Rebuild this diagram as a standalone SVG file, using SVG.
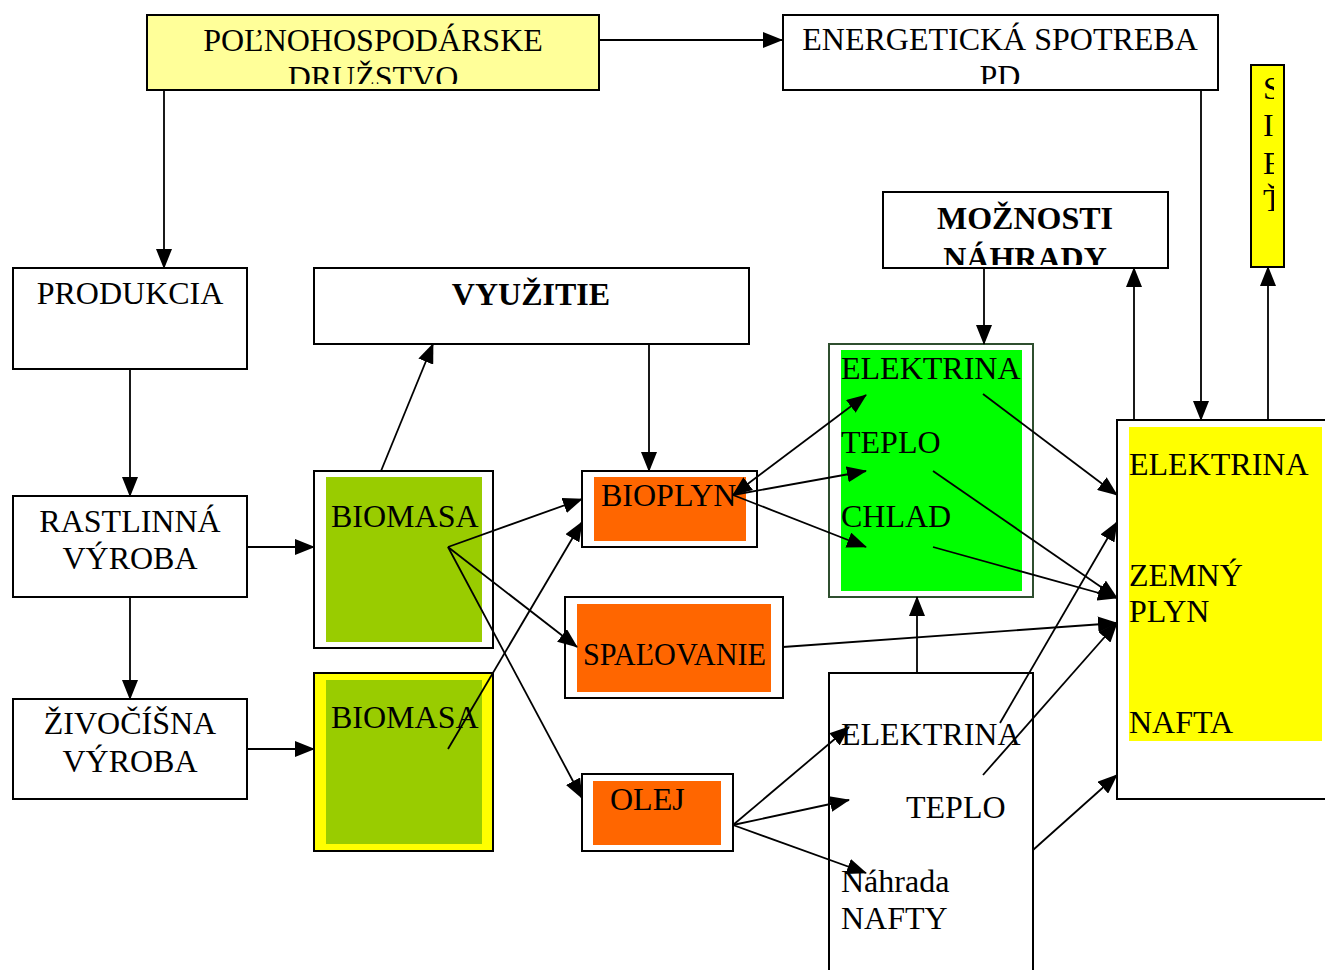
<svg xmlns="http://www.w3.org/2000/svg" width="1325" height="970" viewBox="0 0 1325 970">
<style>
.box{fill:#fff;stroke:#000;stroke-width:2}
.t{font-family:"Liberation Serif","Times New Roman",serif;font-size:32px;fill:#000}
.c{text-anchor:middle}
.b{font-weight:bold}
.ln{fill:none;stroke:#000;stroke-width:1.8}
</style>
<defs>
<marker id="ah" markerUnits="userSpaceOnUse" markerWidth="20" markerHeight="16" refX="19" refY="8" orient="auto-start-reverse">
<path d="M0,0 L20,8 L0,16 Z" fill="#000"/>
</marker>
<clipPath id="cp1"><rect x="148" y="16" width="450" height="68"/></clipPath>
<clipPath id="cp2"><rect x="783" y="16" width="434" height="68"/></clipPath>
<clipPath id="cp3"><rect x="884" y="193" width="283" height="72"/></clipPath>
<clipPath id="cp4"><rect x="1252" y="66" width="22" height="200"/></clipPath>
</defs>

<g id="druzstvo">
<rect x="147" y="15" width="452" height="75" fill="#FFFF99" stroke="#000" stroke-width="2"/>
<g clip-path="url(#cp1)">
<text class="t c" x="373" y="51">POĽNOHOSPODÁRSKE</text>
<text class="t c" x="373" y="88">DRUŽSTVO</text>
</g>
</g>

<g id="spotreba">
<rect class="box" x="783" y="15" width="435" height="75"/>
<g clip-path="url(#cp2)">
<text class="t c" x="1000" y="50">ENERGETICKÁ SPOTREBA</text>
<text class="t c" x="1000" y="87">PD</text>
</g>
</g>

<g id="siet">
<rect x="1251" y="65" width="33" height="202" fill="#FFFF00" stroke="#000" stroke-width="2"/>
<g clip-path="url(#cp4)">
<text class="t" x="1263" y="99">S</text>
<text class="t" x="1263" y="136">I</text>
<text class="t" x="1263" y="174">E</text>
<text class="t" x="1263" y="211">Ť</text>
</g>
</g>

<g id="moznosti">
<rect class="box" x="883" y="192" width="285" height="76"/>
<g clip-path="url(#cp3)">
<text class="t c b" x="1025" y="229">MOŽNOSTI</text>
<text class="t c b" x="1025" y="269">NÁHRADY</text>
</g>
</g>

<g id="produkcia">
<rect class="box" x="13" y="268" width="234" height="101"/>
<text class="t c" x="130" y="304">PRODUKCIA</text>
</g>

<g id="vyuzitie">
<rect class="box" x="314" y="268" width="435" height="76"/>
<text class="t c b" x="531" y="305">VYUŽITIE</text>
</g>

<g id="rastlinna">
<rect class="box" x="13" y="496" width="234" height="101"/>
<text class="t c" x="130" y="532">RASTLINNÁ</text>
<text class="t c" x="130" y="569">VÝROBA</text>
</g>

<g id="zivocisna">
<rect class="box" x="13" y="699" width="234" height="100"/>
<text class="t c" x="130" y="734">ŽIVOČÍŠNA</text>
<text class="t c" x="130" y="772">VÝROBA</text>
</g>

<g id="biomasa1">
<rect class="box" x="314" y="471" width="179" height="177"/>
<rect x="326" y="477" width="156" height="165" fill="#99CC00"/>
<text class="t" x="331" y="527">BIOMASA</text>
</g>

<g id="biomasa2">
<rect x="314" y="673" width="179" height="178" fill="#FFFF00" stroke="#000" stroke-width="2"/>
<rect x="326" y="680" width="156" height="164" fill="#99CC00"/>
<text class="t" x="331" y="728">BIOMASA</text>
</g>

<g id="bioplyn">
<rect class="box" x="582" y="471" width="175" height="76"/>
<rect x="594" y="477" width="152" height="64" fill="#FF6600"/>
<text class="t" x="601" y="506">BIOPLYN</text>
</g>

<g id="spalovanie">
<rect class="box" x="565" y="597" width="218" height="101"/>
<rect x="577" y="604" width="194" height="88" fill="#FF6600"/>
<text class="t" x="583" y="665" textLength="183" lengthAdjust="spacingAndGlyphs">SPAĽOVANIE</text>
</g>

<g id="olej">
<rect class="box" x="582" y="774" width="151" height="77"/>
<rect x="593" y="781" width="128" height="64" fill="#FF6600"/>
<text class="t" x="610" y="810">OLEJ</text>
</g>

<g id="energie-zelene">
<rect x="829" y="344" width="204" height="253" fill="#fff" stroke="#2f4f2f" stroke-width="2"/>
<rect x="841" y="350" width="181" height="241" fill="#00FF00"/>
<text class="t" x="841" y="379">ELEKTRINA</text>
<text class="t" x="841" y="453">TEPLO</text>
<text class="t" x="841" y="527">CHLAD</text>
</g>

<g id="zdroje">
<rect class="box" x="1117" y="420" width="220" height="379"/>
<rect x="1129" y="427" width="193" height="314" fill="#FFFF00"/>
<text class="t" x="1129" y="475">ELEKTRINA</text>
<text class="t" x="1129" y="586">ZEMNÝ</text>
<text class="t" x="1129" y="622">PLYN</text>
<text class="t" x="1129" y="733">NAFTA</text>
</g>

<g id="energie-olej">
<rect class="box" x="829" y="673" width="204" height="320"/>
<text class="t" x="841" y="745">ELEKTRINA</text>
<text class="t" x="906" y="818">TEPLO</text>
<text class="t" x="841" y="892">Náhrada</text>
<text class="t" x="841" y="929">NAFTY</text>
</g>

<g id="connectors" class="ln">
<path class="ln" d="M599,40 H782" marker-end="url(#ah)"/>
<path class="ln" d="M164,90 V268" marker-end="url(#ah)"/>
<path class="ln" d="M1201,90 V420" marker-end="url(#ah)"/>
<path class="ln" d="M984,268 V344" marker-end="url(#ah)"/>
<path class="ln" d="M1134,420 V268" marker-end="url(#ah)"/>
<path class="ln" d="M1268,420 V267" marker-end="url(#ah)"/>
<path class="ln" d="M130,369 V496" marker-end="url(#ah)"/>
<path class="ln" d="M130,597 V699" marker-end="url(#ah)"/>
<path class="ln" d="M247,547 H314" marker-end="url(#ah)"/>
<path class="ln" d="M247,749 H314" marker-end="url(#ah)"/>
<path class="ln" d="M381,471 L433,344" marker-end="url(#ah)"/>
<path class="ln" d="M649,344 V471" marker-end="url(#ah)"/>
<path class="ln" d="M448,547 L582,499" marker-end="url(#ah)"/>
<path class="ln" d="M448,547 L577,647" marker-end="url(#ah)"/>
<path class="ln" d="M448,547 L582,798" marker-end="url(#ah)"/>
<path class="ln" d="M448,749 L582,522" marker-end="url(#ah)"/>
<path class="ln" d="M733,495 L866,395" marker-start="url(#ah)" marker-end="url(#ah)"/>
<path class="ln" d="M733,495 L866,471" marker-end="url(#ah)"/>
<path class="ln" d="M733,495 L866,547" marker-end="url(#ah)"/>
<path class="ln" d="M983,394 L1117,495" marker-end="url(#ah)"/>
<path class="ln" d="M933,471 L1117,598" marker-end="url(#ah)"/>
<path class="ln" d="M933,547 L1117,598" marker-end="url(#ah)"/>
<path class="ln" d="M783,647 L1117,623" marker-end="url(#ah)"/>
<path class="ln" d="M733,825 L849,727" marker-end="url(#ah)"/>
<path class="ln" d="M733,825 L849,800" marker-end="url(#ah)"/>
<path class="ln" d="M733,825 L866,873" marker-end="url(#ah)"/>
<path class="ln" d="M917,673 V597" marker-end="url(#ah)"/>
<path class="ln" d="M1000,723 L1117,522" marker-end="url(#ah)"/>
<path class="ln" d="M983,775 L1117,623" marker-end="url(#ah)"/>
<path class="ln" d="M1033,850 L1117,775" marker-end="url(#ah)"/>
</g>
</svg>
